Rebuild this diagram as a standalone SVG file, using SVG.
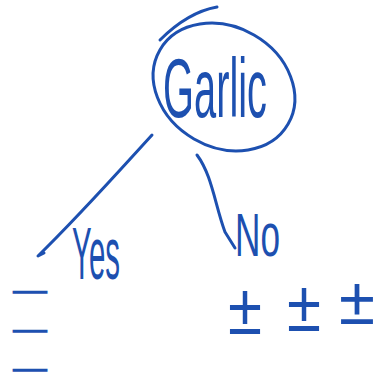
<svg xmlns="http://www.w3.org/2000/svg" width="381" height="382" viewBox="0 0 381 382">
<style>
.ink{fill:none;stroke:#1d50b0;stroke-width:3;stroke-linecap:round;stroke-linejoin:round}
.t{fill:#1d50b0;font-family:"Liberation Sans",Arial,sans-serif}
.m{fill:#1d50b0;stroke:#1d50b0;stroke-width:1.6;font-family:"Liberation Sans",Arial,sans-serif;font-size:20px}
</style>
<rect width="381" height="382" fill="#fff"/>
<g id="connectors">
<path class="ink" d="M152,135 C120,170 80,215 38,256 L44,253"/>
<path class="ink" d="M197,155 C212,175 215,205 225,232 L235,248"/>
</g>
<g id="garlic">
<ellipse class="ink" cx="224" cy="87" rx="74" ry="60" transform="rotate(30 224 87)"/>
<path class="ink" d="M160,40 C180,20 200,10 217,7"/>
<text class="t" x="163" y="117" font-size="84" textLength="104" lengthAdjust="spacingAndGlyphs">Garlic</text>
</g>
<g id="yes">
<text class="t" x="72" y="279" font-size="74" textLength="48" lengthAdjust="spacingAndGlyphs">Yes</text>
<text class="m" x="12" y="299" textLength="36" lengthAdjust="spacingAndGlyphs">−</text>
<text class="m" x="12" y="338" textLength="36" lengthAdjust="spacingAndGlyphs">−</text>
<text class="m" x="12" y="377" textLength="36" lengthAdjust="spacingAndGlyphs">−</text>
</g>
<g id="no">
<text class="t" x="235" y="256" font-size="62" textLength="45" lengthAdjust="spacingAndGlyphs">No</text>
<text class="t" x="228" y="334" font-size="72" textLength="34" lengthAdjust="spacingAndGlyphs">±</text>
<text class="t" x="287" y="331" font-size="72" textLength="34" lengthAdjust="spacingAndGlyphs">±</text>
<text class="t" x="339" y="324" font-size="66" textLength="36" lengthAdjust="spacingAndGlyphs">±</text>
</g>
</svg>
